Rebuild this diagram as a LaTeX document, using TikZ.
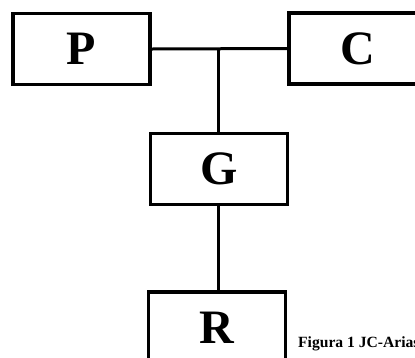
\documentclass[tikz,border=0pt]{standalone}
\usepackage{fontspec}
\setmainfont{Liberation Serif}
\begin{document}
\begin{tikzpicture}[x=1pt,y=-1pt,
  block/.style={draw=black, line width=3.2pt, fill=white, inner sep=0pt,
    minimum width=137pt, minimum height=71pt,
    font=\fontsize{48}{48}\selectfont\bfseries},
  link/.style={draw=black, line width=3pt},
  caption/.style={font=\fontsize{15.6}{15.6}\selectfont\bfseries, inner sep=0pt, anchor=base west}]
  % page frame: content beyond the edges is cut off
  \clip (0,0) rectangle (415,357);
  \fill[white] (0,0) rectangle (415,357);

  % the four blocks
  \node[block] (P) at (81.5,49) {P};
  \node[block] (C) at (357.5,48.5) {C};
  \node[block] (G) at (219,169) {G};
  \node[block] (R) at (217,327.5) {R};

  % junction on the P--C link
  \coordinate (J) at (218.5,49);

  % connectors
  \draw[link] (P.east) -- (C.west);
  \draw[link] (J) -- (J |- G.north);
  \draw[link] (J |- G.south) -- (J |- R.north);

  % caption
  \node[caption] (cap) at (298,347) {Figura 1 JC-Arias};
\end{tikzpicture}
\end{document}
